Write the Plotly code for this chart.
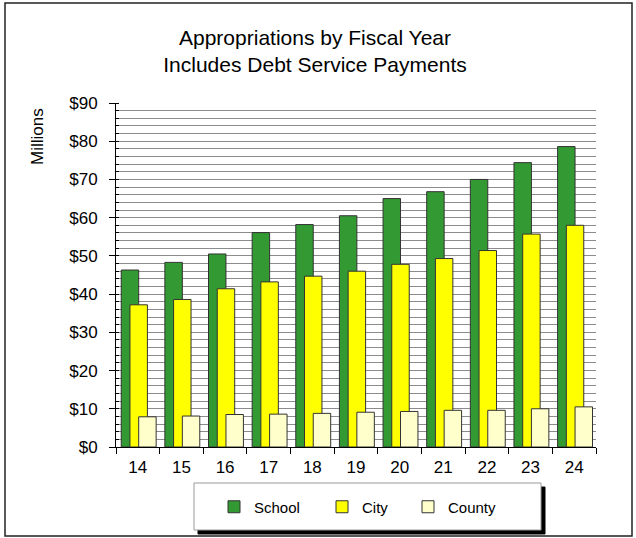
import plotly.graph_objects as go

years = ["14", "15", "16", "17", "18", "19", "20", "21", "22", "23", "24"]
school = [46.3, 48.3, 50.5, 56.1, 58.2, 60.5, 65.0, 66.8, 70.0, 74.4, 78.6]
city = [37.2, 38.6, 41.4, 43.2, 44.7, 46.0, 47.8, 49.3, 51.4, 55.7, 58.0]
county = [7.9, 8.1, 8.5, 8.6, 8.8, 9.1, 9.3, 9.6, 9.6, 10.0, 10.5]

FONT = "Liberation Sans, Arial, sans-serif"
W, H = 636, 538
ML, MR, MT, MB = 116, 40, 103, 91
PW, PH = W - ML - MR, H - MT - MB

def px(x):
    return (x - ML) / PW

def py(y):
    return (H - MB - y) / PH

fig = go.Figure()
series = [
    ("School", school, "#339933", -0.38, "legend"),
    ("City", city, "#FFFF00", -0.18, "legend2"),
    ("County", county, "#FFFFCC", 0.02, "legend3"),
]
for name, vals, color, off, leg in series:
    fig.add_trace(go.Bar(
        x=years, y=vals, name=name, width=0.4, offset=off,
        marker=dict(color=color, line=dict(color="#333333", width=1)),
        legend=leg, showlegend=True,
    ))

# outer border
fig.add_shape(type="rect", xref="paper", yref="paper",
              x0=px(5), x1=px(632), y0=py(536), y1=py(3),
              line=dict(color="#222222", width=1.5), fillcolor="rgba(0,0,0,0)",
              layer="below")
# legend shadow and box
fig.add_shape(type="rect", xref="paper", yref="paper",
              x0=px(198), x1=px(545), y0=py(534), y1=py(487),
              line=dict(color="#000000", width=1), fillcolor="#000000")
fig.add_shape(type="rect", xref="paper", yref="paper",
              x0=px(194), x1=px(541), y0=py(530), y1=py(483),
              line=dict(color="#999999", width=1), fillcolor="#ffffff")

leg_common = dict(orientation="h", xanchor="left", yanchor="middle",
                  bgcolor="rgba(0,0,0,0)", borderwidth=0,
                  font=dict(family=FONT, size=15, color="#000000"))
fig.update_layout(
    showlegend=True,
    legend=dict(x=px(214), y=py(507), **leg_common),
    legend2=dict(x=px(322), y=py(507), **leg_common),
    legend3=dict(x=px(408), y=py(507), **leg_common),
)

fig.add_annotation(text="Millions", xref="paper", yref="paper",
                   x=px(37), y=py(137), textangle=-90, showarrow=False,
                   xanchor="center", yanchor="middle",
                   font=dict(family=FONT, size=17, color="#000000"))

fig.update_layout(
    width=W, height=H,
    margin=dict(l=ML, r=MR, t=MT, b=MB, autoexpand=False),
    paper_bgcolor="#ffffff", plot_bgcolor="#ffffff",
    barmode="overlay",
    font=dict(family=FONT, size=17, color="#000000"),
    title=dict(
        text="Appropriations by Fiscal Year<br>Includes Debt Service Payments",
        x=315 / W, xref="container", xanchor="center",
        y=1 - 45 / H, yref="container", yanchor="top",
        font=dict(family=FONT, size=21, color="#000000"),
    ),
    xaxis=dict(
        type="category", tickson="boundaries", ticks="outside", ticklen=6,
        tickcolor="#000000", showline=True, linecolor="#000000", linewidth=1,
        showgrid=False, tickfont=dict(size=17), range=[-0.5, 10.5],
        ticklabelstandoff=5, automargin=False,
    ),
    yaxis=dict(
        range=[0, 90], dtick=10, tickprefix="$", ticks="outside", ticklen=6,
        tickcolor="#000000", showline=True, linecolor="#000000", linewidth=1,
        showgrid=True, gridcolor="#8c8c8c", gridwidth=1, zeroline=False,
        tickfont=dict(size=17), ticklabelstandoff=8,
        minor=dict(dtick=2, showgrid=True, gridcolor="#8c8c8c", gridwidth=1,
                   ticks="inside", ticklen=3, tickcolor="#000000"),
        automargin=False,
    ),
)

fig.write_html("out.html", config={"displayModeBar": False},
               post_script="document.body.style.margin='0';")
